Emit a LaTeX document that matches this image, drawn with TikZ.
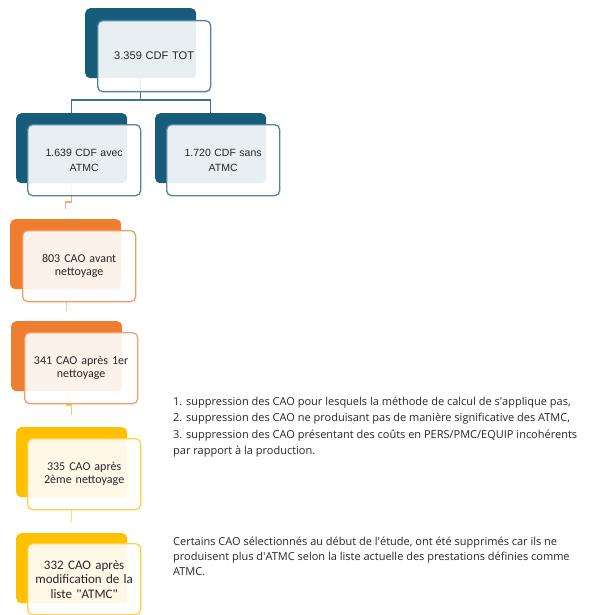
\documentclass[tikz,border=0pt]{standalone}
\usepackage{fontspec}
\setmainfont{Carlito}
\newfontfamily\arialf{Liberation Sans}
\newfontfamily\notef{Open Sans}
\usetikzlibrary{calc}
\definecolor{tealA}{HTML}{185C7C}
\definecolor{orngA}{HTML}{ED7D31}
\definecolor{ylwA}{HTML}{FFC000}
\definecolor{txtA}{HTML}{262626}
\begin{document}
\begin{tikzpicture}[x=1pt,y=-1pt,
  darkbox/.style={draw=none, fill=#1, rounded corners=5pt, minimum width=111pt, minimum height=70pt, inner sep=0pt, anchor=north west},
  litebox/.style={draw=#1!75!white, line width=1.3pt, fill=white, fill opacity=0.9, text opacity=1, rounded corners=5pt, minimum width=113pt, minimum height=71pt, inner sep=2pt, anchor=north west, align=center, text width=108pt, text=txtA},
  cdfA/.style={font=\arialf\fontsize{11.1}{14}\selectfont},
  cdfB/.style={font=\arialf\fontsize{10.5}{14.5}\selectfont},
  caoA/.style={font=\fontsize{12}{13.5}\selectfont},
  caoB/.style={font=\fontsize{13}{14.5}\selectfont},
  conn/.style={draw=tealA!85!white, line width=1.1pt},
  stub/.style={draw=#1, line width=1.3pt},
  note/.style={anchor=north west, align=left, inner sep=0pt, text=txtA}]
\useasboundingbox (0,0) rectangle (589,615);
% dark back rectangles
\node[darkbox=tealA] (d1) at (85,8) {};
\node[darkbox=tealA] (d2) at (16,113) {};
\node[darkbox=tealA] (d3) at (155,113) {};
\node[darkbox=orngA] (d4) at (10,219) {};
\node[darkbox=orngA] (d5) at (11,321) {};
\node[darkbox=ylwA] (d6) at (16,427) {};
\node[darkbox=ylwA] (d7) at (16,533) {};
% connectors
\coordinate (j1) at (140,100);
\draw[conn] (d1.south) -- (d1.south |- j1) -| (d2.north);
\draw[conn] (d1.south |- j1) -| (d3.north);
\coordinate (j2) at (0,202);
\draw[stub=orngA!65!white, shorten >=10pt] (d2.south) -- (d2.south |- j2) -| (d4.north);
\coordinate (j3) at (0,296);
\draw[stub=orngA!45!white, shorten >=10pt] (d4.south) -- (d4.south |- j3) -| (d5.north);
\coordinate (j4) at (0,405);
\draw[stub=ylwA!75!orngA!70!white, shorten >=12pt] (d5.south) -- (d5.south |- j4) -| (d6.north);
\draw[stub=ylwA!50!white, shorten >=10pt] (d6.south) -- (d7.north);
% front boxes
\node[litebox=tealA, cdfA] (b1) at (97,20) {3.359 CDF TOT};
\node[litebox=tealA, cdfB] (b2) at (27,124) {1.639 CDF avec\\ATMC};
\node[litebox=tealA, cdfB] (b3) at (166,124) {1.720 CDF sans\\ATMC};
\node[litebox=orngA, caoA] (b4) at (22,230) {803 CAO avant\\nettoyage};
\node[litebox=orngA, caoA] (b5) at (24,332) {341 CAO après 1er\\nettoyage};
\node[litebox=ylwA, caoA] (b6) at (27,438) {335 CAO après\\2ème nettoyage};
\node[litebox=ylwA, caoB] (b7) at (27,543) {332 CAO après\\modification de la\\liste \textquotedbl ATMC\textquotedbl};
% notes
\node[note, font=\notef\fontsize{11}{16.3}\selectfont] (n1) at (173,397) {1. suppression des CAO pour lesquels la méthode de calcul de s\textquotesingle applique pas,\\2. suppression des CAO ne produisant pas de manière significative des ATMC,\\3. suppression des CAO présentant des coûts en PERS/PMC/EQUIP incohérents\\par rapport à la production.};
\node[note, font=\notef\fontsize{11}{15}\selectfont] (n2) at (173,537) {Certains CAO sélectionnés au début de l\textquotesingle étude, ont été supprimés car ils ne\\produisent plus d\textquotesingle ATMC selon la liste actuelle des prestations définies comme\\ATMC.};
\end{tikzpicture}
\end{document}
